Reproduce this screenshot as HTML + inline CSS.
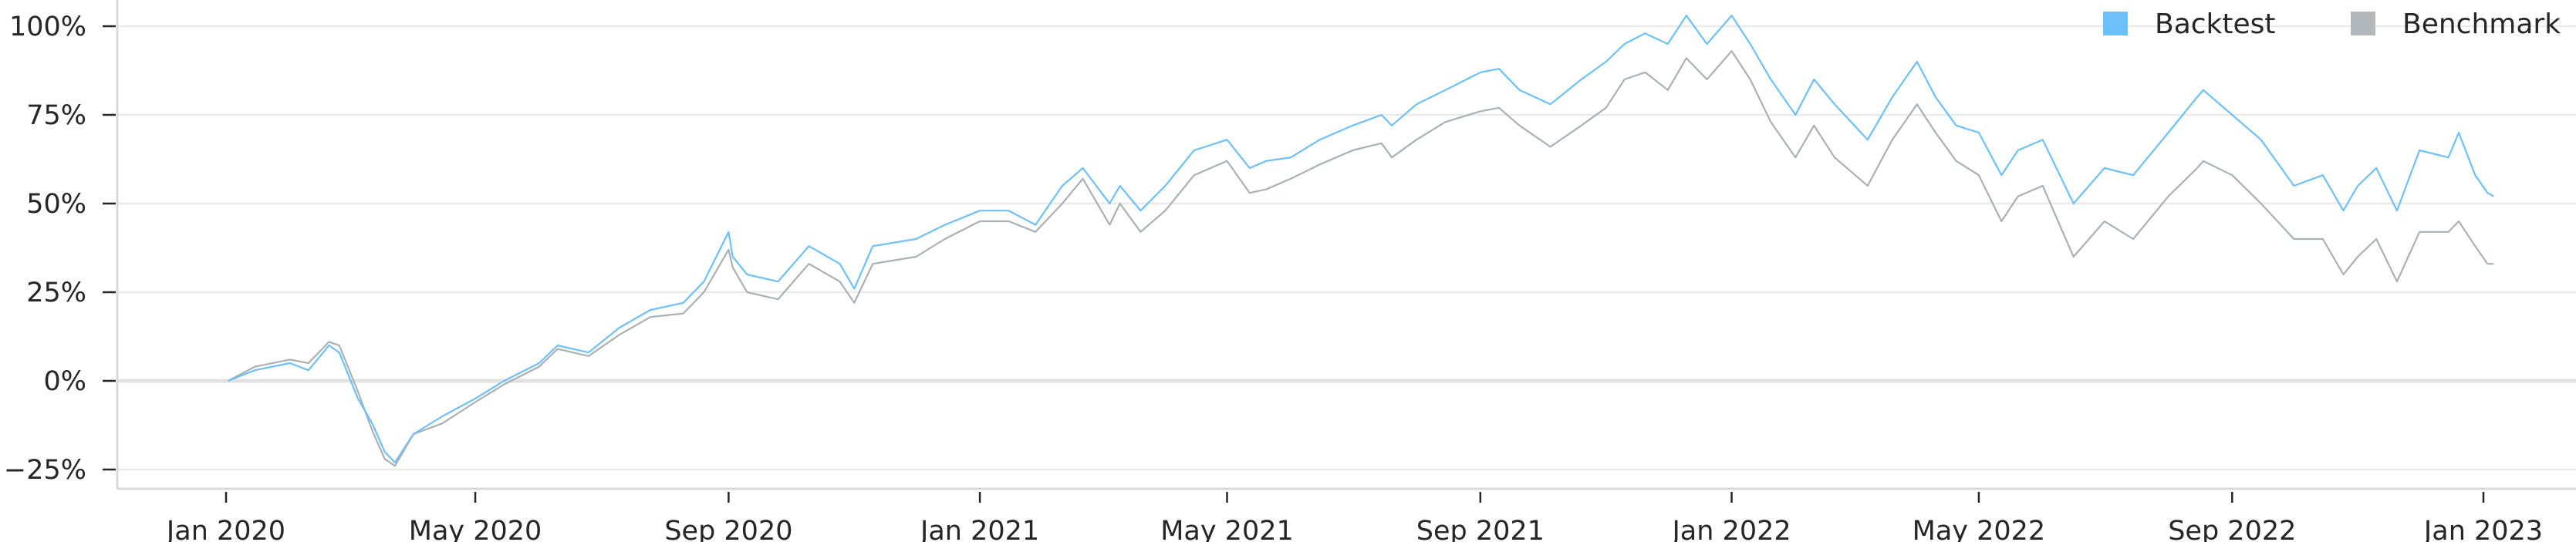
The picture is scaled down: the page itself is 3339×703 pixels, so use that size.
<!DOCTYPE html>
<html><head><meta charset="utf-8"><style>
html,body{margin:0;padding:0;background:#fff;}
svg{display:block;font-family:"DejaVu Sans","Liberation Sans",sans-serif;}
</style></head><body>
<svg id="chart" width="3339" height="703" viewBox="0 0 3339 703" xmlns="http://www.w3.org/2000/svg">
<g id="grid"></g>
<g id="axes"></g>
<g id="series"></g>
<g id="legend">
  <rect x="2726" y="15" width="32" height="31" fill="#6ec0fa"/>
  <text x="2793" y="43" font-size="36" fill="#262626">Backtest</text>
  <rect x="3047" y="15" width="32" height="31" fill="#b2b8bc"/>
  <text x="3114" y="43" font-size="36" fill="#262626">Benchmark</text>
</g>
</svg>
<script>
const dates = ["2020-01-02","2020-01-15","2020-02-01","2020-02-10","2020-02-20","2020-02-25","2020-03-05","2020-03-12","2020-03-18","2020-03-23","2020-04-01","2020-04-15","2020-05-01","2020-05-15","2020-06-01","2020-06-10","2020-06-25","2020-07-10","2020-07-25","2020-08-10","2020-08-20","2020-09-01","2020-09-03","2020-09-10","2020-09-25","2020-10-10","2020-10-25","2020-11-01","2020-11-10","2020-12-01","2020-12-15","2021-01-01","2021-01-15","2021-01-28","2021-02-10","2021-02-20","2021-03-05","2021-03-10","2021-03-20","2021-04-01","2021-04-15","2021-05-01","2021-05-12","2021-05-20","2021-06-01","2021-06-15","2021-07-01","2021-07-15","2021-07-20","2021-08-01","2021-08-15","2021-09-01","2021-09-10","2021-09-20","2021-10-05","2021-10-20","2021-11-01","2021-11-10","2021-11-20","2021-12-01","2021-12-10","2021-12-20","2022-01-01","2022-01-10","2022-01-20","2022-02-01","2022-02-10","2022-02-20","2022-03-08","2022-03-20","2022-04-01","2022-04-10","2022-04-20","2022-05-01","2022-05-12","2022-05-20","2022-06-01","2022-06-16","2022-07-01","2022-07-15","2022-08-01","2022-08-15","2022-08-18","2022-09-01","2022-09-15","2022-10-01","2022-10-15","2022-10-25","2022-11-01","2022-11-10","2022-11-20","2022-12-01","2022-12-15","2022-12-20","2022-12-28","2023-01-03","2023-01-06"];
const backtest = [0,3,5,3,10,8,-5,-12,-20,-23,-15,-10,-5,0,5,10,8,15,20,22,28,42,35,30,28,38,33,26,38,40,44,48,48,44,55,60,50,55,48,55,65,68,60,62,63,68,72,75,72,78,82,87,88,82,78,85,90,95,98,95,103,95,103,95,85,75,85,78,68,80,90,80,72,70,58,65,68,50,60,58,70,80,82,75,68,55,58,48,55,60,48,65,63,70,58,53,52];
const benchmark = [0,4,6,5,11,10,-3,-14,-22,-24,-15,-12,-6,-1,4,9,7,13,18,19,25,37,32,25,23,33,28,22,33,35,40,45,45,42,50,57,44,50,42,48,58,62,53,54,57,61,65,67,63,68,73,76,77,72,66,72,77,85,87,82,91,85,93,85,73,63,72,63,55,68,78,70,62,58,45,52,55,35,45,40,52,60,62,58,50,40,40,30,35,40,28,42,42,45,38,33,33];
const yTicks = [-25,0,25,50,75,100];
const xTickLabels = ["Jan 2020","May 2020","Sep 2020","Jan 2021","May 2021","Sep 2021","Jan 2022","May 2022","Sep 2022","Jan 2023"];
const xTickDates = ["2020-01-01","2020-05-01","2020-09-01","2021-01-01","2021-05-01","2021-09-01","2022-01-01","2022-05-01","2022-09-01","2023-01-01"];

const NS="http://www.w3.org/2000/svg";
const t0=Date.parse("2020-01-01"), t1=Date.parse("2023-01-01");
function xScale(d){return 293+(Date.parse(d)-t0)/(t1-t0)*(3219-293);}
function yScale(v){return 494-v*4.6;}
function mk(tag,attrs,parent){const e=document.createElementNS(NS,tag);for(const k in attrs)e.setAttribute(k,attrs[k]);parent.appendChild(e);return e;}

const grid=document.getElementById('grid'), axes=document.getElementById('axes'), series=document.getElementById('series');
yTicks.forEach(v=>{
  const y=yScale(v);
  const g=mk('line',{x1:152,x2:3339,y1:y,y2:y,stroke:v===0?'#e2e2e2':'#ebebeb','stroke-width':v===0?5:2.5},grid);
  
  
  const t=mk('line',{x1:133,x2:150,y1:y,y2:y,stroke:'#262626','stroke-width':2.5},axes);
  
  
  const lb=mk('text',{x:112,y:y+12,'text-anchor':'end','font-size':35,fill:'#262626'},axes);
  lb.textContent=(v<0?'\u2212'+(-v):v)+'%';
  
  
});
const sp=mk('line',{x1:152,x2:152,y1:0,y2:634,stroke:'#d9d9d9','stroke-width':3},axes);


const sb=mk('line',{x1:152,x2:3339,y1:634,y2:634,stroke:'#d9d9d9','stroke-width':3},axes);


xTickDates.forEach((d,i)=>{
  const x=xScale(d);
  const t=mk('line',{x1:x,x2:x,y1:638,y2:652,stroke:'#262626','stroke-width':2.5},axes);
  
  
  const lb=mk('text',{x:x,y:700,'text-anchor':'middle','font-size':35,fill:'#262626'},axes);
  lb.textContent=xTickLabels[i];
  
  
});
function linePath(vals){
  return vals.map((v,i)=>(i===0?'M':'L')+xScale(dates[i]).toFixed(1)+' '+yScale(v).toFixed(1)).join(' ');
}
const pm=mk('path',{d:linePath(benchmark),fill:'none',stroke:'#aab1b6','stroke-width':2.2,'stroke-linejoin':'round'},series);


const pb=mk('path',{d:linePath(backtest),fill:'none',stroke:'#6ec0fa','stroke-width':2.2,'stroke-linejoin':'round'},series);


</script>
</body></html>
